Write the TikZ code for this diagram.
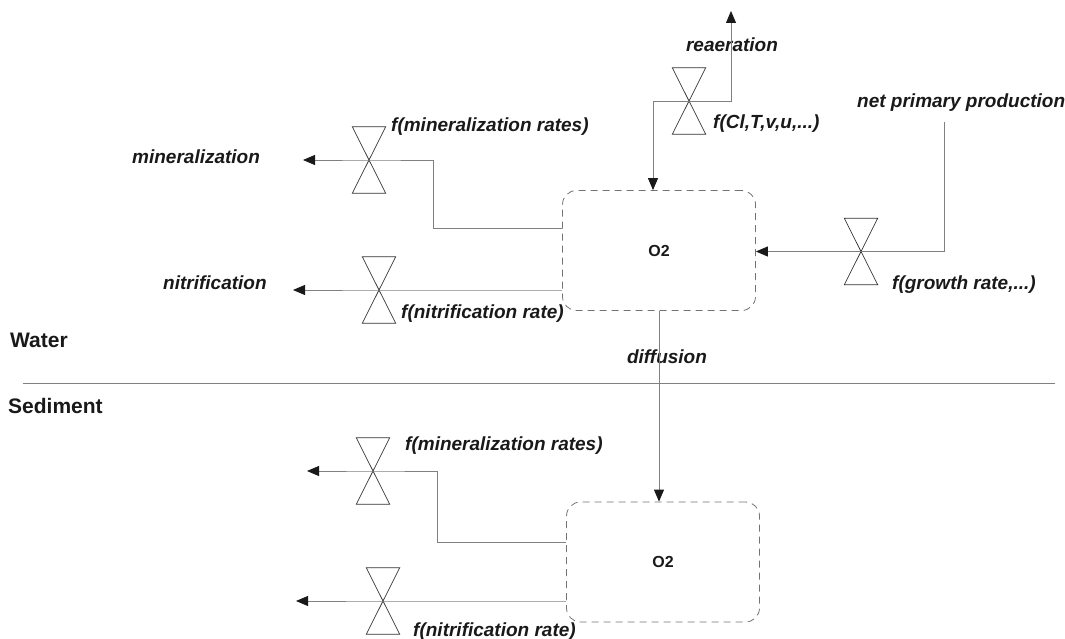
\documentclass[tikz,border=0pt]{standalone}
\usepackage{fontspec}
\setmainfont{Liberation Sans}
\usetikzlibrary{arrows.meta}
\begin{document}
\begin{tikzpicture}[x=1pt,y=-1pt,
  lbl/.style={font=\fontsize{19}{19}\selectfont\bfseries\itshape, text=black!90, inner sep=0},
  zone/.style={font=\fontsize{21}{21}\selectfont\bfseries, text=black!90, inner sep=0},
  pool/.style={draw=black!55, dash pattern=on 7pt off 5pt, rounded corners=14pt, minimum width=193pt, minimum height=120pt,
    font=\fontsize{16}{16}\selectfont\bfseries, text=black!90, line width=0.8pt},
  valve/.style={inner sep=0, minimum width=33pt, minimum height=66pt,
    append after command={\pgfextra{\draw[black!80, line width=0.7pt]
      (\tikzlastnode.north west) -- (\tikzlastnode.north east) --
      (\tikzlastnode.south west) -- (\tikzlastnode.south east) -- cycle;}}},
  flow/.style={draw=black!50, line width=0.8pt, -{Triangle[length=12pt,width=10pt,color=black!90]}},
  sep/.style={draw=black!50, line width=0.8pt}]
\useasboundingbox (0,0) rectangle (1065,639);

% pools
\node[pool] (O2w) at (659,250.5) {O2};
\node[pool] (O2s) at (663,562) {O2};

% reaeration
\node[valve] (V1) at (689,101) {};
\node[lbl, anchor=base] (rea) at (732,52) {reaeration};
\coordinate (reatop) at (731,11);
\coordinate (rea0) at (653,101);
\draw[flow] (V1.center) -- (rea0) -- (rea0 |- O2w.north);
\draw[flow] (V1.center) -| (reatop);
\node[lbl, anchor=base west] (fcl) at (713,129) {f(Cl,T,v,u,...)};

% net primary production
\node[lbl, anchor=base west] (npp) at (857,108) {net primary production};
\coordinate (nppc) at (944,122);
\node[valve] (V2) at (861,251.5) {};
\draw[flow] (nppc) |- (V2.center) -- (V2.center -| O2w.east);
\node[lbl, anchor=base west] (fgr) at (892,289) {f(growth rate,...)};

% mineralization (water)
\node[valve] (V3) at (369,160) {};
\node[lbl, anchor=base west] (minw) at (132,164) {mineralization};
\coordinate (minwtip) at (303,160);
\coordinate (minwk) at (433,228);
\draw[flow] (minwk -| O2w.west) -- (minwk) |- (V3.center) -- (minwtip);
\node[lbl, anchor=base west] (fminw) at (391,132) {f(mineralization rates)};

% nitrification (water)
\node[valve] (V4) at (379,290) {};
\node[lbl, anchor=base west] (nitw) at (163,289) {nitrification};
\coordinate (nitwtip) at (293,290);
\draw[flow] (V4.center -| O2w.west) -- (V4.center) -- (nitwtip);
\node[lbl, anchor=base west] (fnitw) at (401,318) {f(nitrification rate)};

% water / sediment
\node[zone, anchor=base west] (water) at (10,347) {Water};
\node[zone, anchor=base west] (sed) at (8,413) {Sediment};
\coordinate (bl) at (23,383);
\coordinate (br) at (1055,383);
\draw[sep] (bl) -- (br);
\node[lbl, anchor=base] (diff) at (667,363) {diffusion};
\draw[flow] (O2w.south) -- (O2w.south |- O2s.north);

% mineralization (sediment)
\node[valve] (V5) at (373,471) {};
\coordinate (minstip) at (307,471);
\coordinate (minsk) at (437,542);
\draw[flow] (minsk -| O2s.west) -- (minsk) |- (V5.center) -- (minstip);
\node[lbl, anchor=base west] (fmins) at (405,450) {f(mineralization rates)};

% nitrification (sediment)
\node[valve] (V6) at (383,601) {};
\coordinate (nitstip) at (296,601);
\draw[flow] (V6.center -| O2s.west) -- (V6.center) -- (nitstip);
\node[lbl, anchor=base west] (fnits) at (413,636) {f(nitrification rate)};
\end{tikzpicture}
\end{document}
